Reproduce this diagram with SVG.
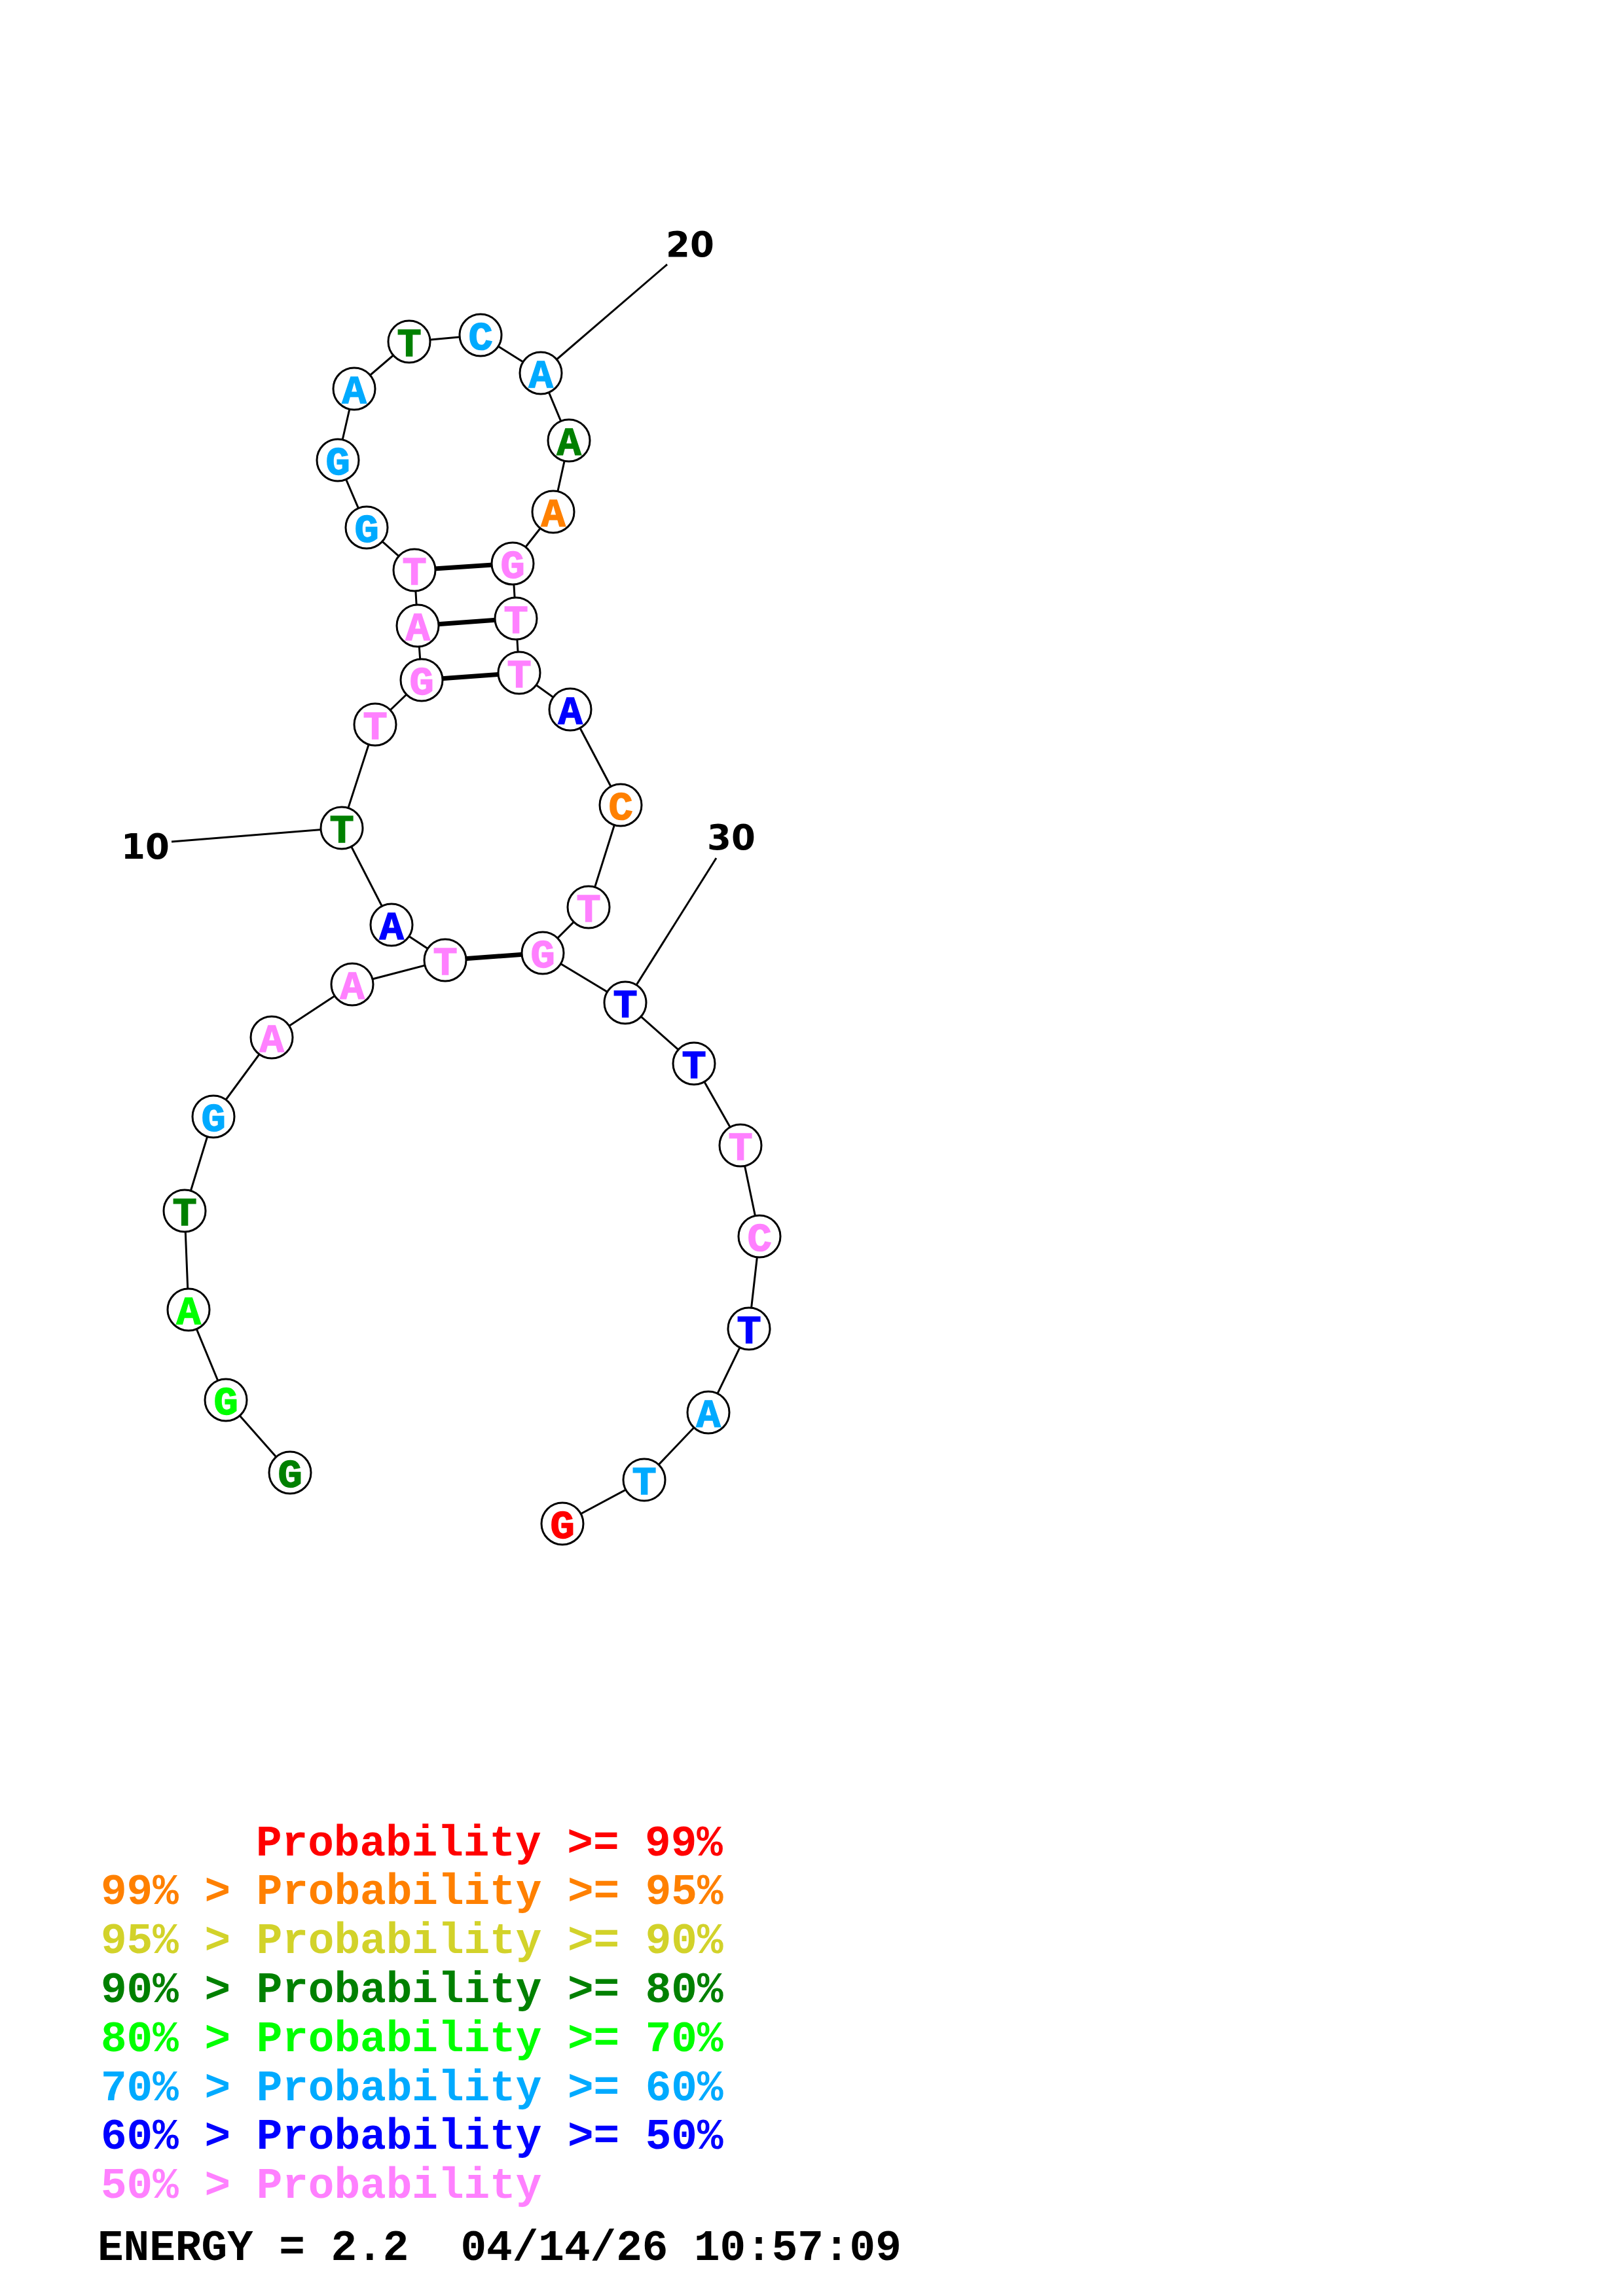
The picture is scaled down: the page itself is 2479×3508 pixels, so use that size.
<svg xmlns="http://www.w3.org/2000/svg" width="2479" height="3508" viewBox="0 0 2479 3508">
<style>
.bb{stroke:#000;stroke-width:3;fill:none}
.bp{stroke:#000;stroke-width:7;fill:none}
.nd circle{fill:#fff;stroke:#000;stroke-width:3}
.nd text{font-family:"Liberation Mono","Courier New",monospace;font-weight:bold;font-size:62px;text-anchor:middle;stroke-width:1.5}
.num{font-family:"DejaVu Sans",sans-serif;font-weight:bold;font-size:53px;fill:#000}
.lg{font-family:"Liberation Mono","Courier New",monospace;font-weight:bold;font-size:66px}
.c0{fill:#ff0000;stroke:#ff0000}.c1{fill:#ff8000;stroke:#ff8000}.c2{fill:#d2d22a}.c3{fill:#008000;stroke:#008000}.c4{fill:#00ff00;stroke:#00ff00}.c5{fill:#00aaff;stroke:#00aaff}.c6{fill:#0000ff;stroke:#0000ff}.c7{fill:#ff80ff;stroke:#ff80ff}
.lg.c0,.lg.c1,.lg.c3,.lg.c4,.lg.c5,.lg.c6,.lg.c7{stroke:none}
</style>
<rect width="2479" height="3508" fill="#fff"/>
<g id="connectors">
<polyline class="bb" points="443,2250 345,2139 288,2001 282,1850 326,1706 415,1585 538,1504 680,1467 598,1413 522,1265 573,1107 644,1039 638,956 633,871 560,806 516,703 541,594 625,522 734,512 826,570 869,673 845,782 783,861 788,945 793,1028 871,1084 948,1230 899,1386 829,1456 955,1532 1060,1625 1131,1750 1160,1889 1144,2030 1082,2158 984,2261 859,2328"/>
<line class="bp" x1="633" y1="871" x2="783" y2="861"/>
<line class="bp" x1="638" y1="956" x2="788" y2="945"/>
<line class="bp" x1="644" y1="1039" x2="793" y2="1028"/>
<line class="bp" x1="680" y1="1467" x2="829" y2="1456"/>
<line class="bb" x1="522" y1="1265" x2="262" y2="1286"/>
<line class="bb" x1="826" y1="570" x2="1019" y2="404"/>
<line class="bb" x1="955" y1="1532" x2="1094" y2="1311"/>
</g>
<g id="labels">
<text class="num" x="185" y="1312">10</text>
<text class="num" x="1017" y="392">20</text>
<text class="num" x="1080" y="1298">30</text>
</g>
<g id="n1" class="nd"><circle cx="443" cy="2250" r="32"/><text x="443" y="2272" class="c3">G</text></g>
<g id="n2" class="nd"><circle cx="345" cy="2139" r="32"/><text x="345" y="2161" class="c4">G</text></g>
<g id="n3" class="nd"><circle cx="288" cy="2001" r="32"/><text x="288" y="2023" class="c4">A</text></g>
<g id="n4" class="nd"><circle cx="282" cy="1850" r="32"/><text x="282" y="1872" class="c3">T</text></g>
<g id="n5" class="nd"><circle cx="326" cy="1706" r="32"/><text x="326" y="1728" class="c5">G</text></g>
<g id="n6" class="nd"><circle cx="415" cy="1585" r="32"/><text x="415" y="1607" class="c7">A</text></g>
<g id="n7" class="nd"><circle cx="538" cy="1504" r="32"/><text x="538" y="1526" class="c7">A</text></g>
<g id="n8" class="nd"><circle cx="680" cy="1467" r="32"/><text x="680" y="1489" class="c7">T</text></g>
<g id="n9" class="nd"><circle cx="598" cy="1413" r="32"/><text x="598" y="1435" class="c6">A</text></g>
<g id="n10" class="nd"><circle cx="522" cy="1265" r="32"/><text x="522" y="1287" class="c3">T</text></g>
<g id="n11" class="nd"><circle cx="573" cy="1107" r="32"/><text x="573" y="1129" class="c7">T</text></g>
<g id="n12" class="nd"><circle cx="644" cy="1039" r="32"/><text x="644" y="1061" class="c7">G</text></g>
<g id="n13" class="nd"><circle cx="638" cy="956" r="32"/><text x="638" y="978" class="c7">A</text></g>
<g id="n14" class="nd"><circle cx="633" cy="871" r="32"/><text x="633" y="893" class="c7">T</text></g>
<g id="n15" class="nd"><circle cx="560" cy="806" r="32"/><text x="560" y="828" class="c5">G</text></g>
<g id="n16" class="nd"><circle cx="516" cy="703" r="32"/><text x="516" y="725" class="c5">G</text></g>
<g id="n17" class="nd"><circle cx="541" cy="594" r="32"/><text x="541" y="616" class="c5">A</text></g>
<g id="n18" class="nd"><circle cx="625" cy="522" r="32"/><text x="625" y="544" class="c3">T</text></g>
<g id="n19" class="nd"><circle cx="734" cy="512" r="32"/><text x="734" y="534" class="c5">C</text></g>
<g id="n20" class="nd"><circle cx="826" cy="570" r="32"/><text x="826" y="592" class="c5">A</text></g>
<g id="n21" class="nd"><circle cx="869" cy="673" r="32"/><text x="869" y="695" class="c3">A</text></g>
<g id="n22" class="nd"><circle cx="845" cy="782" r="32"/><text x="845" y="804" class="c1">A</text></g>
<g id="n23" class="nd"><circle cx="783" cy="861" r="32"/><text x="783" y="883" class="c7">G</text></g>
<g id="n24" class="nd"><circle cx="788" cy="945" r="32"/><text x="788" y="967" class="c7">T</text></g>
<g id="n25" class="nd"><circle cx="793" cy="1028" r="32"/><text x="793" y="1050" class="c7">T</text></g>
<g id="n26" class="nd"><circle cx="871" cy="1084" r="32"/><text x="871" y="1106" class="c6">A</text></g>
<g id="n27" class="nd"><circle cx="948" cy="1230" r="32"/><text x="948" y="1252" class="c1">C</text></g>
<g id="n28" class="nd"><circle cx="899" cy="1386" r="32"/><text x="899" y="1408" class="c7">T</text></g>
<g id="n29" class="nd"><circle cx="829" cy="1456" r="32"/><text x="829" y="1478" class="c7">G</text></g>
<g id="n30" class="nd"><circle cx="955" cy="1532" r="32"/><text x="955" y="1554" class="c6">T</text></g>
<g id="n31" class="nd"><circle cx="1060" cy="1625" r="32"/><text x="1060" y="1647" class="c6">T</text></g>
<g id="n32" class="nd"><circle cx="1131" cy="1750" r="32"/><text x="1131" y="1772" class="c7">T</text></g>
<g id="n33" class="nd"><circle cx="1160" cy="1889" r="32"/><text x="1160" y="1911" class="c7">C</text></g>
<g id="n34" class="nd"><circle cx="1144" cy="2030" r="32"/><text x="1144" y="2052" class="c6">T</text></g>
<g id="n35" class="nd"><circle cx="1082" cy="2158" r="32"/><text x="1082" y="2180" class="c5">A</text></g>
<g id="n36" class="nd"><circle cx="984" cy="2261" r="32"/><text x="984" y="2283" class="c5">T</text></g>
<g id="n37" class="nd"><circle cx="859" cy="2328" r="32"/><text x="859" y="2350" class="c0">G</text></g>
<g id="legend">
<text class="lg c0" x="391" y="2835">Probability &gt;= 99%</text>
<text class="lg c1" x="154" y="2909">99% &gt; Probability &gt;= 95%</text>
<text class="lg c2" x="154" y="2984">95% &gt; Probability &gt;= 90%</text>
<text class="lg c3" x="154" y="3059">90% &gt; Probability &gt;= 80%</text>
<text class="lg c4" x="154" y="3134">80% &gt; Probability &gt;= 70%</text>
<text class="lg c5" x="154" y="3209">70% &gt; Probability &gt;= 60%</text>
<text class="lg c6" x="154" y="3283">60% &gt; Probability &gt;= 50%</text>
<text class="lg c7" x="154" y="3358">50% &gt; Probability</text>
<text class="lg" x="149" y="3453" fill="#000" font-size="67" xml:space="preserve">ENERGY = 2.2  04/14/26 10:57:09</text>
</g>
</svg>
